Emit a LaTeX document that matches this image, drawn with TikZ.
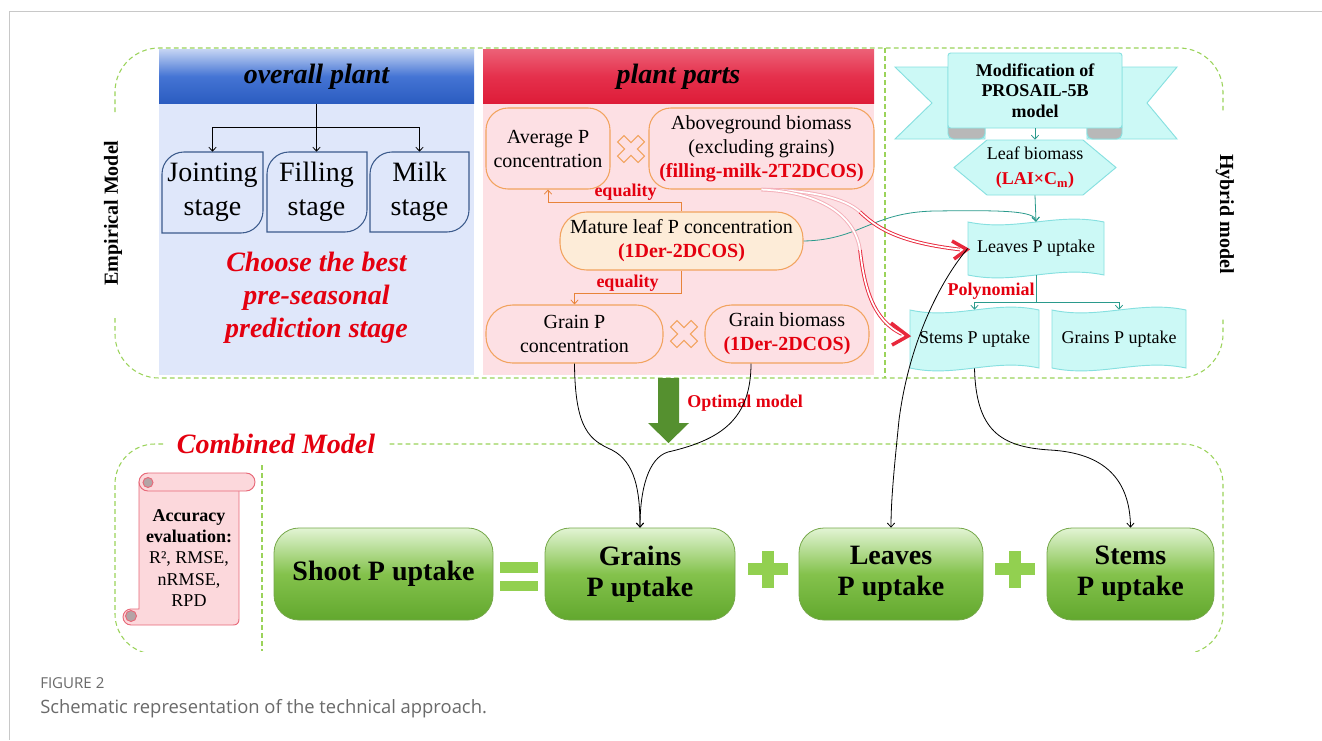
\documentclass[tikz,border=0pt]{standalone}
\usepackage{fontspec}
\setmainfont{Liberation Serif}
\newfontfamily\capfont{Open Sans}
\usetikzlibrary{arrows.meta,calc}
\definecolor{framegray}{HTML}{C8C8C8}
\definecolor{dgreen}{HTML}{9BD35A}
\definecolor{bluetop}{HTML}{C3D3F3}
\definecolor{bluemid}{HTML}{4474D4}
\definecolor{bluebot}{HTML}{2B5CC0}
\definecolor{bluebody}{HTML}{DFE7FA}
\definecolor{stageblue}{HTML}{3C5B8C}
\definecolor{redtop}{HTML}{EC6076}
\definecolor{redmid}{HTML}{E5304C}
\definecolor{redbot}{HTML}{DE1C38}
\definecolor{pinkbody}{HTML}{FDE0E4}
\definecolor{orange1}{HTML}{F2A35E}
\definecolor{orangearr}{HTML}{E8843A}
\definecolor{maturefill}{HTML}{FDECD8}
\definecolor{redtxt}{HTML}{E4000F}
\definecolor{cyanfill}{HTML}{CCF9F6}
\definecolor{cyanline}{HTML}{86E0E0}
\definecolor{teal1}{HTML}{2A9A8C}
\definecolor{foldgray}{HTML}{B8B8B8}
\definecolor{ggreen}{HTML}{55902F}
\definecolor{plusgreen}{HTML}{92D050}
\definecolor{gtop}{HTML}{E2F4D4}
\definecolor{gmid}{HTML}{84C24C}
\definecolor{gbot}{HTML}{62A82E}
\definecolor{gstroke}{HTML}{76A84A}
\definecolor{scrollfill}{HTML}{FCD8DC}
\definecolor{scrollline}{HTML}{E86878}
\definecolor{scrollgray}{HTML}{B4A4A6}
\definecolor{pinkarr}{HTML}{F4B0B9}
\definecolor{redarr}{HTML}{E8283C}
\definecolor{capgray}{HTML}{6A6A6A}

\tikzset{
  gdash/.style={draw=dgreen, line width=0.8pt, dash pattern=on 3.5pt off 2.5pt},
  arr/.style={-{Straight Barb[length=3pt,width=5.5pt]}, line width=0.6pt},
  hdr/.style={font=\fontsize{21}{25}\selectfont\bfseries\itshape, text=black, inner sep=0pt},
  stage/.style={draw=stageblue, fill=bluebody, line width=0.8pt},
  stagetext/.style={font=\fontsize{21}{25.5}\selectfont, align=center, inner sep=0pt},
  pbox/.style={draw=orange1, fill=pinkbody, line width=0.8pt, align=center, font=\fontsize{15}{18}\selectfont, inner sep=0pt},
  lbl/.style={text=redtxt, font=\fontsize{13.5}{16}\selectfont\bfseries, inner sep=0pt},
  cyanshape/.style={draw=cyanline, fill=cyanfill, line width=0.7pt},
  wavetext/.style={font=\fontsize{13.5}{16}\selectfont, inner sep=0pt},
  gbox/.style={draw=gstroke, line width=0.6pt, rounded corners=18.75pt, top color=gtop, bottom color=gbot, middle color=gmid, font=\fontsize{21}{23.5}\selectfont\bfseries, align=center, inner sep=0pt, minimum height=69pt},
  dbl/.style={line width=0.7pt, double=white, double distance=1.3pt},
  chev/.style={draw=redarr, line width=2.6pt, line join=miter, line cap=butt},
}

\newcommand\stgbox[4]{\draw[stage] (#1,{#2+22}) .. controls (#1,{#2+10}) and ({#1+10},#2) .. ({#1+22},#2) -- (#3,#2) -- (#3,{#4-22}) .. controls (#3,{#4-10}) and ({#3-10},#4) .. ({#3-22},#4) -- (#1,#4) -- cycle;}
\newcommand\wavebox[4]{\draw[cyanshape] (#1,#2) .. controls ({#1+0.35*(#3-#1)},{#2+10}) and ({#1+0.65*(#3-#1)},{#2-10}) .. (#3,#2) -- (#3,#4) .. controls ({#1+0.65*(#3-#1)},{#4-10}) and ({#1+0.35*(#3-#1)},{#4+10}) .. (#1,#4) -- cycle;}
\newcommand\mulmark[2]{\draw[draw=orange1, fill=pinkbody, line width=0.8pt, shift={(#1,#2)}, rotate=45] (4.5,14.5) -- (4.5,4.5) -- (14.5,4.5) -- (14.5,-4.5) -- (4.5,-4.5) -- (4.5,-14.5) -- (-4.5,-14.5) -- (-4.5,-4.5) -- (-14.5,-4.5) -- (-14.5,4.5) -- (-4.5,4.5) -- (-4.5,14.5) -- cycle;}

\begin{document}
\begin{tikzpicture}[x=0.75pt,y=-0.75pt]
\useasboundingbox (0,0) rectangle (1322,740);
\fill[white] (0,0) rectangle (1322,740);

% frame
\draw[framegray, line width=0.75pt] (1322,11) -- (9,11) -- (9,740);

% upper dashed region
\draw[gdash, rounded corners=33pt] (115,112) -- (115,48) -- (1223,48) -- (1223,112);
\draw[gdash, rounded corners=33pt] (115,318) -- (115,378) -- (1223,378) -- (1223,318);
\draw[gdash] (885,48) -- (885,378);
\node[font=\fontsize{15}{18}\selectfont\bfseries, rotate=90] (emp) at (113,213) {Empirical Model};
\node[font=\fontsize{15}{18}\selectfont\bfseries, rotate=-90] (hyb) at (1225,214) {Hybrid model};

% ===== blue panel =====
\fill[bluebody] (159,50) rectangle (474,375);
\node[hdr, minimum width=236.25pt, minimum height=40.5pt, top color=bluetop, bottom color=bluebot, middle color=bluemid] (overall) at (316.5,76.5) {overall plant};
\stgbox{162}{152}{263}{233}
\stgbox{267}{152}{367}{232}
\stgbox{370}{152}{469}{232}
\node[stagetext, minimum width=75.75pt, minimum height=60.75pt] (jointing) at (212.5,192.5) {Jointing\\stage};
\node[stagetext, minimum width=75pt, minimum height=60pt] (filling) at (316.5,192) {Filling\\stage};
\node[stagetext, minimum width=74.25pt, minimum height=60pt] (milk) at (419.5,192) {Milk\\stage};
\draw[arr, draw=black] (overall.south) -- (filling.north);
\draw[arr, draw=black] (overall.south) ++(0,24) -| (jointing.north);
\draw[arr, draw=black] (overall.south) ++(0,24) -| (milk.north);
\node[font=\fontsize{21}{24.6}\selectfont\bfseries\itshape, text=redtxt, align=center] (choose) at (316.5,298) {Choose the best\\pre-seasonal\\prediction stage};

% ===== red panel =====
\fill[pinkbody] (483,50) rectangle (874,375);
\node[hdr, minimum width=293.25pt, minimum height=40.5pt, top color=redtop, bottom color=redbot, middle color=redmid] (parts) at (678.5,76.5) {plant parts};
\node[pbox, minimum width=93pt, minimum height=60.75pt, rounded corners=16.5pt] (avg) at (548,148.5) {Average P\\concentration};
\node[pbox, minimum width=168.75pt, minimum height=60.75pt, rounded corners=16.5pt] (above) at (761.5,148.5) {Aboveground biomass\\(excluding grains)\\\textcolor{redtxt}{\bfseries(filling-milk-2T2DCOS)}};
\node[pbox, fill=maturefill, minimum width=182.25pt, minimum height=43.5pt, rounded corners=20pt] (mature) at (681.5,241) {Mature leaf P concentration\\\textcolor{redtxt}{\bfseries(1Der-2DCOS)}};
\node[pbox, minimum width=132.75pt, minimum height=43.5pt, rounded corners=20pt] (grainp) at (574.5,334) {Grain P\\concentration};
\node[pbox, minimum width=123pt, minimum height=43.5pt, rounded corners=20pt] (gbm) at (787,334) {Grain biomass\\\textcolor{redtxt}{\bfseries(1Der-2DCOS)}};
\mulmark{631}{149}
\mulmark{684}{334}
\draw[arr, draw=orangearr] (mature.north) -- ++(0,-9) -| (avg.south);
\draw[arr, draw=orangearr] (mature.south) -- ++(0,23) -| (grainp.north);
\node[lbl] (eq1) at (625.5,192) {equality};
\node[lbl] (eq2) at (627.5,283) {equality};

% ===== hybrid panel =====
\filldraw[cyanshape] (948,67) -- (895,67) -- (932,103) -- (895,139) -- (985,139) -- (985,128) -- (948,128) -- cycle;
\filldraw[cyanshape] (1122,67) -- (1177,67) -- (1147,103) -- (1177,139) -- (1087,139) -- (1087,128) -- (1122,128) -- cycle;
\filldraw[fill=foldgray, draw=cyanline, line width=0.7pt, rounded corners=4pt] (948,122) rectangle (985,139);
\filldraw[fill=foldgray, draw=cyanline, line width=0.7pt, rounded corners=4pt] (1087,122) rectangle (1122,139);
\node[cyanshape, minimum width=130.5pt, minimum height=56.25pt, font=\fontsize{13.5}{15.4}\selectfont\bfseries, align=center, inner sep=0pt, rounded corners=2pt] (ribbon) at (1035,90.5) {Modification of\\PROSAIL-5B\\model};
\draw[cyanshape] (954,167.5) -- (987,140) -- (1083,140) -- (1116,167.5) -- (1083,195) -- (987,195) -- cycle;
\node[inner sep=0pt, minimum width=121.5pt, minimum height=41.25pt, align=center, font=\fontsize{13.5}{18.5}\selectfont] (hex) at (1035,167.5) {Leaf biomass\\\textcolor{redtxt}{\bfseries(LAI×C\textsubscript{m})}};
\wavebox{968}{222}{1104}{275}
\wavebox{910}{310}{1039}{368}
\wavebox{1052}{310}{1186}{368}
\node[wavetext, minimum width=102pt, minimum height=39.75pt] (leavesH) at (1036,248.5) {Leaves P uptake};
\node[wavetext, minimum width=96.75pt, minimum height=43.5pt] (stemsH) at (974.5,339) {Stems P uptake};
\node[wavetext, minimum width=100.5pt, minimum height=43.5pt] (grainsH) at (1119,339) {Grains P uptake};
\draw[arr, draw=teal1] (ribbon.south) -- (hex.north);
\draw[arr, draw=teal1] (hex.south) -- (leavesH.north);
\draw[arr, draw=teal1] (leavesH.south) -- ++(0,27) -| (stemsH.north);
\draw[arr, draw=teal1] (leavesH.south) -- ++(0,27) -| (grainsH.north);
\node[lbl] (poly) at (991,291) {Polynomial};

% teal curve from mature leaf
\draw[arr, draw=teal1] (mature.east) .. controls (860,240) and (872,212) .. (935,211) .. controls (1005,210) and (1035,211) .. (leavesH.north);

% red double arrows
\draw[dbl, draw=pinkarr] (above.south) .. controls (810,190) and (845,198) .. (860,212);
\draw[dbl, draw=redarr] (860,212) .. controls (875,226) and (895,242) .. (960,249.5);
\draw[chev] (952,241) -- (967,249.5) -- (954,259);
\draw[dbl, draw=pinkarr] (above.south) .. controls (820,192) and (855,215) .. (860,250);
\draw[dbl, draw=redarr] (860,250) .. controls (864,285) and (872,320) .. (902,334);
\draw[chev] (891,323) -- (908,336) -- (892,345);

% ===== big green arrow =====
\fill[ggreen] (658,378) -- (679,378) -- (679,423) -- (689,423) -- (668.5,443) -- (648,423) -- (658,423) -- cycle;
\node[lbl] (opt) at (745,403) {Optimal model};

% ===== combined model region =====
\begin{scope}
\clip (0,0) rectangle (1322,651);
\draw[gdash, rounded corners=30pt] (163,444) -- (115,444) -- (115,654) -- (1223,654) -- (1223,444) -- (388,444);
\end{scope}
\node[font=\fontsize{21}{25}\selectfont\bfseries\itshape, text=redtxt, inner sep=0pt] (combined) at (276,444) {Combined Model};
\draw[gdash] (262,465) -- (262,651);

% scroll
\filldraw[fill=scrollfill, draw=scrollline, line width=0.7pt] (139,482) -- (239,482) -- (239,619) .. controls (239,623) and (237,625) .. (233,625) -- (131,625) .. controls (126.6,625) and (123,621.4) .. (123,617) .. controls (123,612.6) and (126.6,609) .. (131,609) -- (139,609) -- cycle;
\filldraw[fill=scrollgray, draw=scrollline, line width=0.7pt] (131,616) circle[radius=5.5];
\filldraw[fill=scrollfill, draw=scrollline, line width=0.7pt, rounded corners=6.75pt] (139,473) rectangle (255,491);
\filldraw[fill=scrollgray, draw=scrollline, line width=0.7pt] (148,482.5) circle[radius=5];
\node[font=\fontsize{13.5}{16.1}\selectfont, align=center, inner sep=0pt] (acc) at (189,558) {\textbf{Accuracy}\\\textbf{evaluation:}\\R², RMSE,\\nRMSE,\\RPD};

% green boxes
\node[gbox, minimum width=164.25pt] (shoot) at (383.5,574) {Shoot P uptake};
\node[gbox, minimum width=142.5pt] (grainsB) at (640,574) {Grains\\P uptake};
\node[gbox, minimum width=138pt] (leavesB) at (891,574) {Leaves\\P uptake};
\node[gbox, minimum width=125.25pt] (stemsB) at (1130.5,574) {Stems\\P uptake};
\fill[plusgreen] (500,562) rectangle (538,573);
\fill[plusgreen] (500,581) rectangle (538,591);
\fill[plusgreen] (748,563) rectangle (788,575);
\fill[plusgreen] (762,551) rectangle (774,588);
\fill[plusgreen] (995,563) rectangle (1035,575);
\fill[plusgreen] (1009,551) rectangle (1021,588);

% black connectors
\draw[arr, draw=black] (grainp.south) .. controls (575,430) and (590,440) .. (612,450) .. controls (635,462) and (640,490) .. (grainsB.north);
\draw[arr, draw=black] ([xshift=-27pt]gbm.south) .. controls (751,420) and (720,440) .. (668,452) .. controls (648,458) and (640,490) .. (grainsB.north);
\draw[arr, draw=black] (leavesH.west) .. controls (945,275) and (910,335) .. (899,420) .. controls (894,470) and (891,500) .. (leavesB.north);
\draw[arr, draw=black] (stemsH.south) .. controls (976,430) and (1000,447) .. (1050,450) .. controls (1105,453) and (1130,480) .. (stemsB.north);

% caption
\node[anchor=base west, inner sep=0pt, font=\capfont\fontsize{11.3}{13}\selectfont, text=capgray] (figno) at (40,688) {FIGURE 2};
\node[anchor=base west, inner sep=0pt, font=\capfont\fontsize{13.8}{16}\selectfont, text=capgray] (cap) at (40,713) {Schematic representation of the technical approach.};
\end{tikzpicture}
\end{document}
